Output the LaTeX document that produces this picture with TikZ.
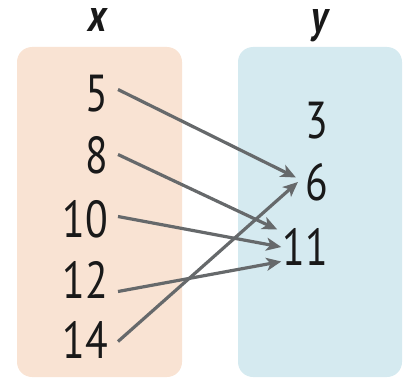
\documentclass[tikz,border=0pt]{standalone}
\usepackage{fontspec}
\setmainfont{PT Sans}
\newfontfamily\narrowfont[FakeStretch=0.8]{PT Sans}
\usetikzlibrary{arrows.meta}
\definecolor{peach}{HTML}{F9E3D3}
\definecolor{skyb}{HTML}{D5EAF0}
\definecolor{arrowgray}{HTML}{66696B}
\begin{document}
\begin{tikzpicture}[x=1pt,y=-1pt,
  setbox/.style={rounded corners=15pt},
  num/.style={font=\narrowfont\fontsize{52}{52}\selectfont, inner sep=0pt, text height=36pt, text depth=0pt, anchor=base east, text=black!90},
  varlab/.style={font=\narrowfont\fontsize{46}{46}\selectfont\bfseries\itshape, inner sep=0pt, anchor=base, text=black!90},
  maparrow/.style={draw=arrowgray, line width=3.2pt, -{Stealth[length=15pt,width=13pt,inset=4pt]}}]
\useasboundingbox (0,0) rectangle (409,385);
\fill[peach, setbox] (17,47) rectangle (182,377);
\fill[skyb, setbox] (238,47) rectangle (402,377);
\node[varlab] (lx) at (98,32) {x};
\node[varlab] (ly) at (320,33) {y};
\node[num] (n5) at (108,112) {5};
\node[num] (n8) at (108,173) {8};
\node[num] (n10) at (108,237) {10};
\node[num] (n12) at (108,298) {12};
\node[num] (n14) at (108,358) {14};
\node[num] (m3) at (328,138) {3};
\node[num] (m6) at (328,200) {6};
\node[num] (m11) at (328,265) {11};
\draw[maparrow] ([xshift=10pt,yshift=4.5pt]n5.east) -- ([xshift=-9pt,yshift=4.5pt]m6.west);
\draw[maparrow] ([xshift=10pt,yshift=0.5pt]n8.east) -- ([xshift=-5pt,yshift=17.5pt]m11.west);
\draw[maparrow] ([xshift=10pt,yshift=2.5pt]n10.east) -- ([xshift=-1pt,yshift=0pt]m11.west);
\draw[maparrow] ([xshift=10pt,yshift=-11.5pt]n12.east) -- ([xshift=-1pt,yshift=-14.5pt]m11.west);
\draw[maparrow] ([xshift=10pt,yshift=-1.5pt]n14.east) -- ([xshift=-7pt,yshift=0pt]m6.west);
\end{tikzpicture}
\end{document}
